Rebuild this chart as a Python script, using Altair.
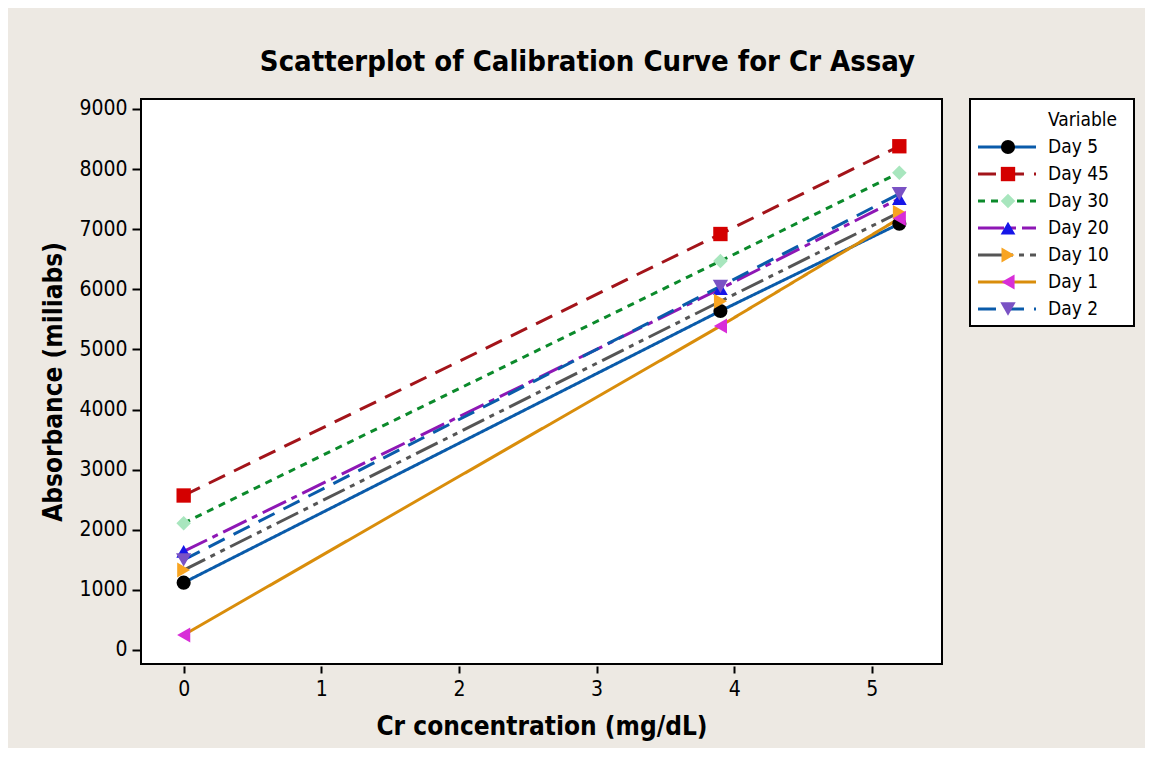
import altair as alt
import pandas as pd

# ---- data ----
series = ["Day 5", "Day 45", "Day 30", "Day 20", "Day 10", "Day 1", "Day 2"]
conc = [0, 3.9, 5.2]
day5 = [1120, 5640, 7090]
day45 = [2570, 6920, 8380]
day30 = [2110, 6470, 7940]
day20 = [1640, 6010, 7510]
day10 = [1330, 5800, 7280]
day1 = [250, 5390, 7180]
day2 = [1500, 6050, 7590]
values = [day5, day45, day30, day20, day10, day1, day2]
x_ticks = [0, 1, 2, 3, 4, 5]
y_ticks = [0, 1000, 2000, 3000, 4000, 5000, 6000, 7000, 8000, 9000]

# ---- styles ----
line_colors = ["#0A5BAA", "#A3141A", "#0B8A2B", "#8E17B5", "#555555", "#D98D0B", "#0A5BAA"]
marker_colors = ["#000000", "#D40000", "#A8E6BE", "#1616E8", "#F8A421", "#D82ED8", "#7A52C4"]
shapes = ["circle", "square", "diamond", "triangle-up", "triangle-right", "triangle-left", "triangle-down"]
marker_sizes = [200, 235, 320, 320, 320, 320, 320]
dashes = [[1, 0], [18, 10], [7, 6], [26, 6, 6, 6], [24, 6, 5, 6, 5, 6], [1, 0], [18, 10]]

rows = []
for i, (s, vals) in enumerate(zip(series, values)):
    for xv, yv in zip(conc, vals):
        rows.append({"Variable": s, "conc": xv, "abs": yv, "ord": i})
df = pd.DataFrame(rows)

FONT = "DejaVu Sans Condensed"

stroke_scale = alt.Scale(domain=series, range=line_colors)
fill_scale = alt.Scale(domain=series, range=marker_colors)
shape_scale = alt.Scale(domain=series, range=shapes)
size_scale = alt.Scale(domain=series, range=marker_sizes)
dash_scale = alt.Scale(domain=series, range=dashes)

x_enc = alt.X(
    "conc:Q",
    scale=alt.Scale(domain=[-0.31, 5.51], nice=False, zero=False),
    axis=alt.Axis(values=x_ticks, title="Cr concentration (mg/dL)", offset=2,
                  tickSize=7, labelPadding=5, titlePadding=14),
)
y_enc = alt.Y(
    "abs:Q",
    scale=alt.Scale(domain=[-233, 9166], nice=False, zero=False),
    axis=alt.Axis(values=y_ticks, format="d", title="Absorbance (miliabs)",
                  tickSize=9, labelPadding=5, titlePadding=12),
)

lines = alt.Chart(df).mark_line(strokeWidth=3, strokeCap="butt").encode(
    x=x_enc,
    y=y_enc,
    stroke=alt.Stroke("Variable:N", scale=stroke_scale, legend=None),
    strokeDash=alt.StrokeDash("Variable:N", scale=dash_scale, legend=None),
    detail="Variable:N",
)
points = alt.Chart(df).mark_point(filled=True, opacity=1, strokeWidth=0).encode(
    x=x_enc,
    y=y_enc,
    fill=alt.Fill("Variable:N", scale=fill_scale, legend=None),
    shape=alt.Shape("Variable:N", scale=shape_scale, legend=None),
    size=alt.Size("Variable:N", scale=size_scale, legend=None),
    order=alt.Order("ord:Q"),
)
plot = alt.layer(lines, points).properties(width=801, height=565)

# ---- custom legend panel ----
leg_df = pd.DataFrame({"Variable": series, "row": list(range(1, len(series) + 1))})
head_df = pd.DataFrame({"t": ["Variable"], "row": [0]})
lx = alt.Scale(domain=[0, 164], nice=False, zero=False)
ly = alt.Scale(domain=[-0.78, 7.63], nice=False, zero=False, reverse=True)
ly_enc = alt.Y("row:Q", scale=ly, axis=None)

leg_lines = alt.Chart(leg_df).mark_rule(strokeWidth=3, strokeCap="butt").encode(
    x=alt.X(datum=8, type="quantitative", scale=lx, axis=None),
    x2=alt.X2(datum=66),
    y=ly_enc,
    stroke=alt.Stroke("Variable:N", scale=stroke_scale, legend=None),
    strokeDash=alt.StrokeDash("Variable:N", scale=dash_scale, legend=None),
)
leg_pts = alt.Chart(leg_df).mark_point(filled=True, opacity=1, strokeWidth=0).encode(
    x=alt.X(datum=38, type="quantitative", scale=lx, axis=None),
    y=ly_enc,
    fill=alt.Fill("Variable:N", scale=fill_scale, legend=None),
    shape=alt.Shape("Variable:N", scale=shape_scale, legend=None),
    size=alt.Size("Variable:N", scale=size_scale, legend=None),
)
leg_text = alt.Chart(leg_df).mark_text(align="left", baseline="middle", fontSize=19, font=FONT, color="black").encode(
    x=alt.X(datum=78, type="quantitative", scale=lx, axis=None),
    y=ly_enc,
    text="Variable:N",
)
leg_head = alt.Chart(head_df).mark_text(align="left", baseline="middle", fontSize=19, font=FONT, color="black").encode(
    x=alt.X(datum=78, type="quantitative", scale=lx, axis=None),
    y=ly_enc,
    text="t:N",
)
legend = alt.layer(leg_lines, leg_pts, leg_text, leg_head).properties(width=164, height=227)

chart = (
    alt.hconcat(plot, legend, spacing=26)
    .resolve_scale(x="independent", y="independent")
    .properties(
        title=alt.TitleParams(
            "Scatterplot of Calibration Curve for Cr Assay",
            font=FONT, fontSize=29, fontWeight="bold", color="black",
            anchor="middle", offset=20,
        ),
        background="#EDE9E3",
        padding={"left": 31, "top": 39, "right": 10, "bottom": 8},
    )
    .configure_view(stroke="black", strokeWidth=2, fill="white")
    .configure_axis(
        domain=False, grid=False,
        labelFont=FONT, labelFontSize=21, labelColor="black",
        tickColor="black", tickWidth=2,
        titleFont=FONT, titleFontSize=26, titleFontWeight="bold", titleColor="black",
    )
)

chart.save("out.html", embed_options={"renderer": "svg", "actions": False})
